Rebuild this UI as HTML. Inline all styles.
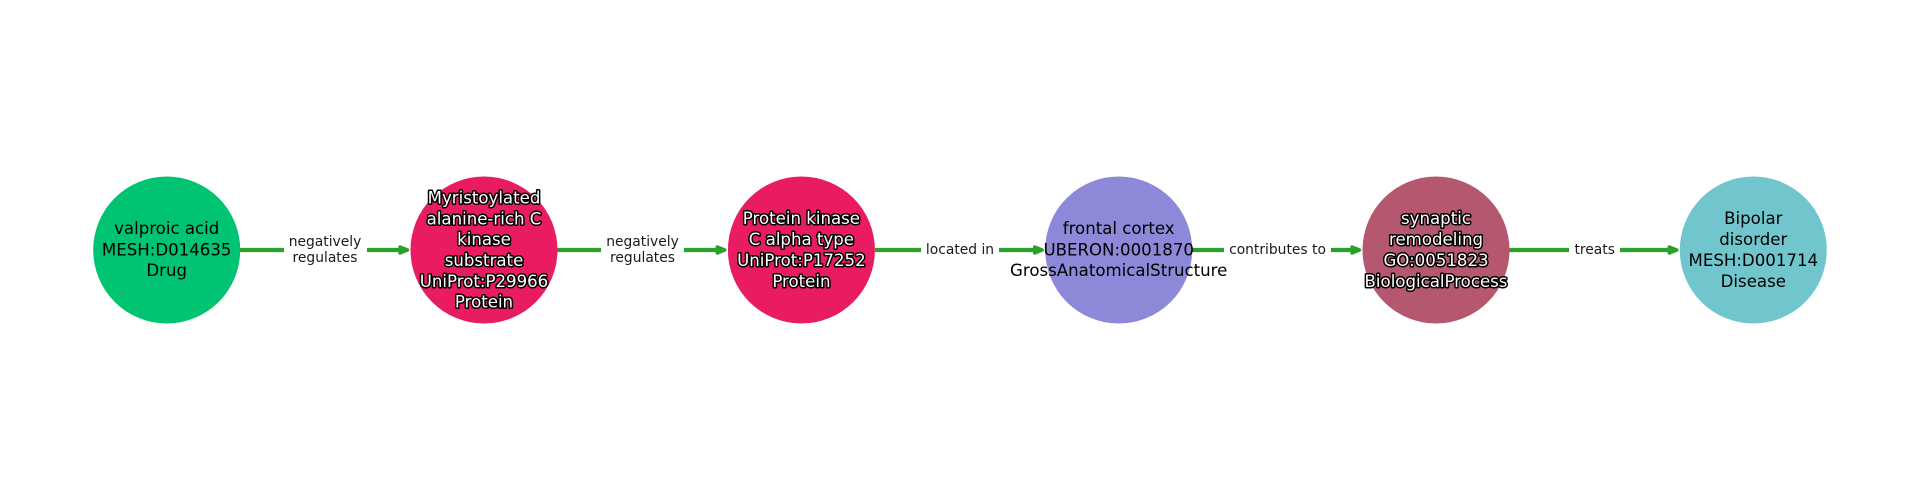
<!DOCTYPE html>
<html>
<head>
<meta charset="utf-8">
<style>
html,body{margin:0;padding:0;background:#fff;width:1920px;height:500px;overflow:hidden}
svg{display:block}
text{font-family:"DejaVu Sans","Liberation Sans",sans-serif;text-anchor:middle}
.n{font-size:16.6px;fill:#000}
.o{font-size:16.6px;fill:#fff;stroke:#000;stroke-width:3px;paint-order:stroke;stroke-linejoin:round}
.e{font-size:13.85px;fill:#1a1a1a}
.l{stroke:#2ca02c;stroke-width:4.2;fill:none}
.a{fill:#2ca02c;stroke:#2ca02c;stroke-width:3.5;stroke-linejoin:round}
</style>
</head>
<body>
<svg width="1920" height="500" viewBox="0 0 1920 500" xmlns="http://www.w3.org/2000/svg">
<rect width="1920" height="500" fill="#fff"/>

<line class="l" x1="240" y1="250" x2="284" y2="250"/>
<line class="l" x1="367" y1="250" x2="402" y2="250"/>
<path class="a" d="M400 247 L407.500 250 L400 253 Z"/>

<line class="l" x1="557" y1="250" x2="601" y2="250"/>
<line class="l" x1="684" y1="250" x2="719" y2="250"/>
<path class="a" d="M717.300 247 L724.800 250 L717.300 253 Z"/>

<line class="l" x1="875" y1="250" x2="921" y2="250"/>
<line class="l" x1="999" y1="250" x2="1037" y2="250"/>
<path class="a" d="M1034.700 247 L1042.200 250 L1034.700 253 Z"/>

<line class="l" x1="1192" y1="250" x2="1224" y2="250"/>
<line class="l" x1="1331" y1="250" x2="1355" y2="250"/>
<path class="a" d="M1352 247 L1359.500 250 L1352 253 Z"/>

<line class="l" x1="1509" y1="250" x2="1569" y2="250"/>
<line class="l" x1="1620" y1="250" x2="1672" y2="250"/>
<path class="a" d="M1669.300 247 L1676.800 250 L1669.300 253 Z"/>

<circle cx="166.700" cy="250" r="73.500" fill="#00c472"/>
<circle cx="484" cy="250" r="73.500" fill="#e91c63"/>
<circle cx="801.400" cy="250" r="73.500" fill="#e91c63"/>
<circle cx="1118.700" cy="250" r="73.500" fill="#8d88d8"/>
<circle cx="1436" cy="250" r="73.500" fill="#b5586f"/>
<circle cx="1753.300" cy="250" r="73.500" fill="#70c6cc"/>

<text class="e" x="325" y="246">negatively</text>
<text class="e" x="325" y="262">regulates</text>
<text class="e" x="642.500" y="246">negatively</text>
<text class="e" x="642.500" y="262">regulates</text>
<text class="e" x="960" y="254">located in</text>
<text class="e" x="1277.500" y="254">contributes to</text>
<text class="e" x="1594.700" y="254">treats</text>

<text class="n" x="166.700" y="234">valproic acid</text>
<text class="n" x="166.700" y="255.500">MESH:D014635</text>
<text class="n" x="166.700" y="276">Drug</text>

<text class="o" x="484" y="203.500">Myristoylated</text>
<text class="o" x="484" y="224.500">alanine-rich C</text>
<text class="o" x="484" y="245">kinase</text>
<text class="o" x="484" y="266">substrate</text>
<text class="o" x="484" y="287">UniProt:P29966</text>
<text class="o" x="484" y="307.500">Protein</text>

<text class="o" x="801.400" y="224">Protein kinase</text>
<text class="o" x="801.400" y="245">C alpha type</text>
<text class="o" x="801.400" y="266">UniProt:P17252</text>
<text class="o" x="801.400" y="287">Protein</text>

<text class="n" x="1118.700" y="234">frontal cortex</text>
<text class="n" x="1118.700" y="255.500">UBERON:0001870</text>
<text class="n" x="1118.700" y="276">GrossAnatomicalStructure</text>

<text class="o" x="1436" y="224">synaptic</text>
<text class="o" x="1436" y="245">remodeling</text>
<text class="o" x="1436" y="266">GO:0051823</text>
<text class="o" x="1436" y="287">BiologicalProcess</text>

<text class="n" x="1753.300" y="224">Bipolar</text>
<text class="n" x="1753.300" y="245">disorder</text>
<text class="n" x="1753.300" y="266">MESH:D001714</text>
<text class="n" x="1753.300" y="287">Disease</text>
</svg>
</body>
</html>
